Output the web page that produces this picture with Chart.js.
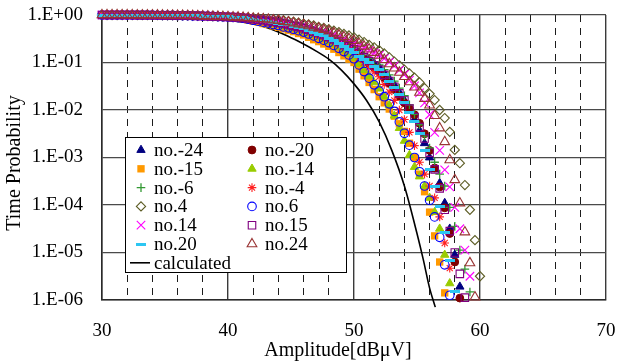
<!DOCTYPE html>
<html>
<head>
<meta charset="utf-8">
<script src="https://cdn.jsdelivr.net/npm/chart.js@4.4.0/dist/chart.umd.min.js"></script>
<style>
  html, body { margin: 0; padding: 0; background: #fff; }
  #chart { display: block; }
</style>
</head>
<body>
<canvas id="chart" width="618" height="361"></canvas>
<script>
const FONT = "'Liberation Serif', 'Times New Roman', serif";

// Amplitude grid of the measured points [dBμV]
const amplitude = [30, 30.4, 30.8, 31.2, 31.6, 32, 32.4, 32.8, 33.2, 33.6, 34, 34.4, 34.8, 35.2, 35.6,
  36, 36.4, 36.8, 37.2, 37.6, 38, 38.4, 38.8, 39.2, 39.6, 40, 40.4, 40.8, 41.2, 41.6, 42, 42.4, 42.8,
  43.2, 43.6, 44, 44.4, 44.8, 45.2, 45.6, 46, 46.4, 46.8, 47.2, 47.6, 48, 48.4, 48.8, 49.2, 49.6, 50,
  50.4, 50.8, 51.2, 51.6, 52, 52.4, 52.8, 53.2, 53.6, 54, 54.4, 54.8, 55.2, 55.6, 56, 56.4, 56.8,
  57.2, 57.6, 58, 58.4, 58.8, 59.2, 59.6, 60];

// log10 of the time probability.
// up to 40 dB all series lie on top of each other
const commonHead = [0, 0, 0, 0, 0, -0.001, -0.001, -0.002, -0.002, -0.003, -0.004, -0.005, -0.006,
  -0.007, -0.009, -0.011, -0.012, -0.014, -0.017, -0.019, -0.022, -0.025, -0.029, -0.033, -0.037, -0.042];

const lgM24 = commonHead.concat([-0.045, -0.052, -0.06, -0.075, -0.09, -0.1, -0.11, -0.13, -0.14, -0.16,
  -0.18, -0.2, -0.23, -0.25, -0.28, -0.31, -0.34, -0.38, -0.41, -0.45, -0.5, -0.55, -0.6, -0.66, -0.72,
  -0.79, -0.87, -0.94, -1.02, -1.1, -1.22, -1.34, -1.47, -1.63, -1.8, -1.98, -2.2, -2.43, -2.7, -3.0,
  -3.25, -3.54, -3.96, -4.5, -5.05, -5.72]);
const lgM20 = commonHead.concat([-0.045, -0.052, -0.06, -0.075, -0.09, -0.1, -0.12, -0.14, -0.15, -0.17,
  -0.19, -0.21, -0.24, -0.26, -0.29, -0.32, -0.35, -0.39, -0.43, -0.47, -0.52, -0.57, -0.63, -0.69, -0.75,
  -0.84, -0.93, -1.02, -1.11, -1.2, -1.32, -1.44, -1.57, -1.71, -1.85, -1.97, -2.1, -2.28, -2.5, -2.85,
  -3.22, -3.62, -4.06, -4.6, -5.2, -5.96]);
const lgM15 = commonHead.concat([-0.05, -0.06, -0.075, -0.1, -0.13, -0.15, -0.18, -0.2, -0.23, -0.26,
  -0.29, -0.32, -0.35, -0.39, -0.42, -0.47, -0.52, -0.56, -0.61, -0.66, -0.72, -0.79, -0.86, -0.93, -1.0,
  -1.14, -1.28, -1.42, -1.57, -1.72, -1.85, -1.98, -2.13, -2.29, -2.45, -2.7, -3.0, -3.35, -3.72, -4.15,
  -4.65, -5.2, -5.85]);
const lgM14 = commonHead.concat([-0.047, -0.055, -0.067, -0.087, -0.11, -0.13, -0.15, -0.17, -0.19, -0.21,
  -0.24, -0.26, -0.29, -0.32, -0.35, -0.39, -0.43, -0.47, -0.51, -0.56, -0.62, -0.68, -0.75, -0.82, -0.9,
  -1.03, -1.16, -1.29, -1.42, -1.55, -1.72, -1.9, -2.12, -2.38, -2.65, -2.95, -3.2, -3.4, -3.6, -3.85,
  -4.15, -4.5, -5.05, -5.65]);
const lgM6 = commonHead.concat([-0.045, -0.052, -0.06, -0.075, -0.09, -0.1, -0.11, -0.13, -0.14, -0.16,
  -0.18, -0.2, -0.22, -0.25, -0.27, -0.3, -0.33, -0.37, -0.4, -0.44, -0.49, -0.54, -0.59, -0.64, -0.7,
  -0.77, -0.84, -0.91, -0.98, -1.05, -1.15, -1.26, -1.39, -1.54, -1.7, -1.89, -2.09, -2.31, -2.55, -2.8,
  -3.1, -3.35, -3.6, -4.05, -4.45, -4.95, -5.35, -5.83]);
const lgM4 = commonHead.concat([-0.046, -0.053, -0.063, -0.08, -0.1, -0.11, -0.13, -0.15, -0.16, -0.18,
  -0.2, -0.23, -0.25, -0.28, -0.31, -0.34, -0.38, -0.42, -0.46, -0.5, -0.55, -0.61, -0.67, -0.73, -0.8,
  -0.9, -1.0, -1.1, -1.2, -1.3, -1.46, -1.62, -1.8, -2.0, -2.2, -2.47, -2.75, -3.1, -3.35, -3.6,
  -3.85, -4.25, -4.8, -5.33]);
const lgP4 = commonHead.concat([-0.043, -0.047, -0.051, -0.055, -0.06, -0.07, -0.075, -0.08, -0.09, -0.1,
  -0.11, -0.13, -0.14, -0.16, -0.18, -0.2, -0.22, -0.25, -0.27, -0.3, -0.33, -0.36, -0.4, -0.43, -0.47,
  -0.52, -0.57, -0.63, -0.68, -0.74, -0.81, -0.89, -0.98, -1.06, -1.15, -1.23, -1.32, -1.42, -1.54, -1.66,
  -1.79, -2.0, -2.17, -2.46, -2.84, -3.12, -3.58, -4.1, -4.74, -5.5]);
const lgP6 = commonHead.concat([-0.048, -0.056, -0.068, -0.088, -0.11, -0.13, -0.15, -0.17, -0.2, -0.22,
  -0.25, -0.27, -0.3, -0.33, -0.36, -0.4, -0.44, -0.49, -0.53, -0.58, -0.64, -0.7, -0.77, -0.84, -0.92,
  -1.05, -1.19, -1.33, -1.47, -1.6, -1.72, -1.87, -2.03, -2.25, -2.49, -2.74, -3.0, -3.3, -3.6, -3.9,
  -4.25, -4.68, -5.26, -5.9]);
const lgP14 = commonHead.concat([-0.044, -0.05, -0.057, -0.068, -0.08, -0.09, -0.1, -0.11, -0.12, -0.13,
  -0.15, -0.17, -0.19, -0.21, -0.23, -0.26, -0.29, -0.32, -0.35, -0.38, -0.42, -0.46, -0.51, -0.55, -0.6,
  -0.65, -0.7, -0.75, -0.8, -0.85, -0.92, -0.99, -1.07, -1.16, -1.25, -1.37, -1.49, -1.64, -1.85, -2.1,
  -2.47, -2.85, -3.26, -3.62, -4.05, -4.5, -4.95, -5.5]);
const lgP15 = commonHead.concat([-0.045, -0.052, -0.06, -0.075, -0.09, -0.1, -0.11, -0.13, -0.14, -0.16,
  -0.18, -0.2, -0.23, -0.25, -0.28, -0.31, -0.35, -0.38, -0.42, -0.46, -0.51, -0.56, -0.61, -0.66, -0.72,
  -0.8, -0.89, -0.97, -1.06, -1.15, -1.26, -1.39, -1.51, -1.65, -1.8, -1.97, -2.15, -2.36, -2.6, -2.9,
  -3.25, -3.65, -4.1, -4.55, -5.0, -5.45, -5.95]);
const lgP20 = commonHead.concat([-0.045, -0.051, -0.06, -0.077, -0.095, -0.11, -0.12, -0.14, -0.155, -0.17,
  -0.19, -0.21, -0.24, -0.26, -0.29, -0.32, -0.36, -0.4, -0.44, -0.49, -0.54, -0.6, -0.66, -0.72, -0.79,
  -0.87, -0.94, -1.01, -1.08, -1.15, -1.26, -1.39, -1.52, -1.68, -1.85, -2.05, -2.25, -2.5, -2.85, -3.25,
  -3.62, -4.04, -4.57, -5.16, -5.83]);
const lgP24 = commonHead.concat([-0.044, -0.048, -0.054, -0.06, -0.07, -0.077, -0.085, -0.095, -0.11, -0.12,
  -0.14, -0.15, -0.17, -0.19, -0.21, -0.23, -0.26, -0.28, -0.31, -0.34, -0.38, -0.42, -0.46, -0.5, -0.54,
  -0.6, -0.66, -0.72, -0.79, -0.85, -0.94, -1.03, -1.12, -1.21, -1.3, -1.41, -1.52, -1.63, -1.76, -1.9,
  -2.12, -2.38, -2.67, -3.05, -3.47, -3.96, -4.57, -5.22, -5.94]);

const seriesLabels = ["no.-24", "no.-20", "no.-15", "no.-14", "no.-6", "no.-4",
                      "no.4", "no.6", "no.14", "no.15", "no.20", "no.24"];
const seriesLogs = [lgM24, lgM20, lgM15, lgM14, lgM6, lgM4, lgP4, lgP6, lgP14, lgP15, lgP20, lgP24];

// calculated curve
const calcLabel = "calculated";
const calcAmplitude = [30, 34, 36, 38, 40, 42, 43, 44, 45, 46, 47, 48, 49, 50, 51, 52, 53, 54, 55, 55.5, 56, 56.45];
const calcLog = [0, -0.02, -0.04, -0.07, -0.11, -0.19, -0.26, -0.36, -0.48, -0.61, -0.76, -0.93, -1.16,
                 -1.45, -1.8, -2.25, -2.85, -3.6, -4.6, -5.15, -5.75, -6.15];

const yTicks = [1e-6, 1e-5, 1e-4, 1e-3, 1e-2, 1e-1, 1];
const yTickLabels = ["1.E-06", "1.E-05", "1.E-04", "1.E-03", "1.E-02", "1.E-01", "1.E+00"];
const xTitle = "Amplitude[dBμV]";
const yTitle = "Time Probability";

// dash marker (no.20) as a small bitmap so it sits centred on the point
const dashImg = document.createElement("canvas");
dashImg.width = 10; dashImg.height = 3;
const dctx = dashImg.getContext("2d");
dctx.fillStyle = "#2CC6F2";
dctx.fillRect(0, 0, 10, 3);

const NONE = "rgba(0,0,0,0)";
const markers = [
  { style: "triangle", r: 4.8, fill: "#000080", stroke: "#000080", bw: 1 },   // no.-24
  { style: "circle",   r: 3.9, fill: "#800000", stroke: "#800000", bw: 1 },   // no.-20
  { style: "rect",     r: 5.2, fill: "#FF9900", stroke: "#FF9900", bw: 0 },   // no.-15
  { style: "triangle", r: 4.8, fill: "#99CC00", stroke: "#99CC00", bw: 1 },   // no.-14
  { style: "cross",    r: 4.3, fill: NONE, stroke: "#339933", bw: 1.3 },      // no.-6
  { style: "star",     r: 4.3, fill: NONE, stroke: "#FF2020", bw: 1.1 },      // no.-4
  { style: "rectRot",  r: 4.6, fill: NONE, stroke: "#5C5C24", bw: 1.1 },      // no.4
  { style: "circle",   r: 4.3, fill: NONE, stroke: "#0000FF", bw: 1.1 },      // no.6
  { style: "crossRot", r: 6,   fill: NONE, stroke: "#FF00FF", bw: 1.1 },      // no.14
  { style: "rect",     r: 5.3, fill: NONE, stroke: "#800080", bw: 1.1 },      // no.15
  { style: dashImg,    r: 5,   fill: NONE, stroke: NONE, bw: 0 },             // no.20
  { style: "triangle", r: 5.6, fill: NONE, stroke: "#993333", bw: 1.1 }       // no.24
];

const datasets = [{
  label: calcLabel,
  data: calcLog.map((lg, i) => ({ x: calcAmplitude[i], y: Math.pow(10, lg) })),
  showLine: true,
  borderColor: "#000",
  borderWidth: 1.6,
  pointRadius: 0,
  cubicInterpolationMode: "monotone",
  clip: false,
  order: 100
}];
seriesLogs.forEach((logs, i) => {
  const m = markers[i];
  datasets.push({
    label: seriesLabels[i],
    data: logs.map((lg, k) => ({ x: amplitude[k], y: Math.pow(10, lg) })),
    showLine: false,
    pointStyle: m.style,
    pointRadius: m.r,
    pointHoverRadius: m.r,
    pointBackgroundColor: m.fill,
    pointBorderColor: m.stroke,
    pointBorderWidth: m.bw,
    clip: false,
    order: 50 - i   // later series on top, like the spreadsheet
  });
});

// legend box inside the plot, two columns
const legendBox = {
  id: "legendBox",
  afterDatasetsDraw(chart) {
    const ctx = chart.ctx;
    ctx.save();
    ctx.fillStyle = "#fff";
    ctx.fillRect(125, 137, 222, 136);
    ctx.strokeStyle = "#000";
    ctx.lineWidth = 1;
    ctx.strokeRect(125.5, 137.5, 221, 135);

    const rowY = k => 150 + k * 18.8;
    ctx.font = "19px " + FONT;
    ctx.textBaseline = "middle";
    ctx.textAlign = "left";
    seriesLabels.forEach((lab, i) => {
      const col = i % 2, row = Math.floor(i / 2);
      const mx = col === 0 ? 141 : 252;
      const y = rowY(row);
      const m = markers[i];
      ctx.fillStyle = m.fill;
      ctx.strokeStyle = m.stroke;
      ctx.lineWidth = m.bw;
      Chart.helpers.drawPoint(ctx, { pointStyle: m.style, radius: m.r, borderWidth: m.bw, rotation: 0 }, mx, y);
      ctx.fillStyle = "#000";
      ctx.fillText(lab, mx + 13, y + 1);
    });
    const cy = rowY(6);
    ctx.strokeStyle = "#000";
    ctx.lineWidth = 1.6;
    ctx.beginPath();
    ctx.moveTo(130, cy);
    ctx.lineTo(150, cy);
    ctx.stroke();
    ctx.fillStyle = "#000";
    ctx.fillText(calcLabel, 154, cy + 1);

    // axis titles
    ctx.font = "20px " + FONT;
    ctx.textAlign = "center";
    ctx.fillText(xTitle, 338, 351);
    ctx.translate(15, 163);
    ctx.rotate(-Math.PI / 2);
    ctx.fillText(yTitle, 0, 0);
    ctx.restore();
  }
};

const isMajor = v => Math.abs(v % 10) < 1e-6;

new Chart(document.getElementById("chart"), {
  type: "scatter",
  data: { datasets },
  options: {
    responsive: false,
    animation: false,
    events: [],
    layout: { padding: { top: 15, right: 12, left: 0, bottom: 0 } },
    plugins: { legend: { display: false }, tooltip: { enabled: false } },
    scales: {
      x: {
        type: "linear",
        min: 30,
        max: 70,
        afterFit: s => { s.height = 61; s.paddingLeft = 0; s.paddingRight = 0; },
        ticks: {
          stepSize: 2,
          autoSkip: false,
          maxRotation: 0,
          padding: 20,
          color: "#000",
          font: { family: FONT, size: 19 },
          callback: v => isMajor(v) ? String(v) : ""
        },
        grid: {
          drawTicks: false,
          color: c => (c.tick && isMajor(c.tick.value)) ? "#3a3a3a" : "#1c1c1c",
          lineWidth: c => (c.tick && isMajor(c.tick.value)) ? 1.4 : 1
        },
        border: {
          color: "#2a2a2a",
          width: 1.5,
          dash: c => (c.tick && !isMajor(c.tick.value)) ? [7, 6] : []
        }
      },
      y: {
        type: "logarithmic",
        min: 1e-6,
        max: 1,
        afterFit: s => { s.width = 102; s.paddingTop = 0; s.paddingBottom = 0; },
        afterBuildTicks: s => { s.ticks = yTicks.map(v => ({ value: v })); },
        ticks: {
          padding: 19,
          color: "#000",
          font: { family: FONT, size: 19 },
          callback: (v, i) => yTickLabels[i]
        },
        grid: { drawTicks: false, color: "#4a4a4a", lineWidth: 1.2 },
        border: { color: "#2a2a2a", width: 1.5 }
      }
    }
  },
  plugins: [legendBox]
});
</script>
</body>
</html>
